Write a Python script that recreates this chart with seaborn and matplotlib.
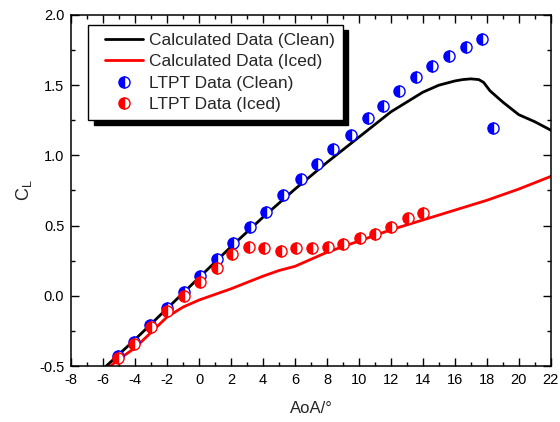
import matplotlib
matplotlib.use("Agg")
import matplotlib.pyplot as plt
import seaborn as sns
import pandas as pd
from matplotlib.ticker import MultipleLocator, FormatStrFormatter
from matplotlib.lines import Line2D
from matplotlib.legend_handler import HandlerLine2D

# Calculated data (lines)
calc_clean_aoa = [-6, -4, -2, 0, 2, 4, 6, 8, 10, 12, 14, 15, 16, 16.5, 17, 17.5, 17.8, 18.2, 19, 20, 21, 22]
calc_clean_cl = [-0.52, -0.31, -0.09, 0.13, 0.35, 0.56, 0.76, 0.95, 1.13, 1.31, 1.45, 1.50, 1.53, 1.54, 1.545, 1.54, 1.52, 1.46, 1.38, 1.29, 1.24, 1.18]

calc_iced_aoa = [-6, -5, -4, -3, -2, -1, 0, 2, 4, 5, 6, 8, 10, 12, 14, 16, 18, 20, 22]
calc_iced_cl = [-0.54, -0.45, -0.37, -0.26, -0.15, -0.08, -0.03, 0.05, 0.14, 0.18, 0.21, 0.31, 0.39, 0.47, 0.54, 0.61, 0.68, 0.76, 0.85]

# LTPT experimental data
ltpt_clean_aoa = [-5.1, -4.1, -3.1, -2.0, -0.95, 0.05, 1.1, 2.1, 3.2, 4.2, 5.25, 6.35, 7.35, 8.4, 9.5, 10.55, 11.5, 12.5, 13.6, 14.6, 15.65, 16.7, 17.7, 18.4]
ltpt_clean_cl = [-0.43, -0.33, -0.21, -0.085, 0.03, 0.143, 0.262, 0.374, 0.488, 0.597, 0.718, 0.83, 0.937, 1.043, 1.147, 1.268, 1.354, 1.459, 1.558, 1.639, 1.71, 1.774, 1.827, 1.195]

ltpt_iced_aoa = [-5.1, -4.06, -3.03, -2.03, -0.95, 0.05, 1.1, 2.08, 3.12, 4.08, 5.1, 6.04, 7.04, 8.04, 9.02, 10.07, 11.0, 12.0, 13.09, 14.03]
ltpt_iced_cl = [-0.44, -0.34, -0.22, -0.11, 0.0, 0.10, 0.20, 0.30, 0.345, 0.34, 0.321, 0.338, 0.34, 0.35, 0.369, 0.414, 0.44, 0.488, 0.556, 0.592]

labels = ["Calculated Data (Clean)", "Calculated Data (Iced)", "LTPT Data (Clean)", "LTPT Data (Iced)"]

sns.set_style("ticks")
plt.rcParams["font.family"] = ["Liberation Sans", "DejaVu Sans"]
plt.rcParams["axes.unicode_minus"] = False

fig = plt.figure(figsize=(5.6, 4.22), dpi=100)
ax = fig.add_axes([0.1273, 0.1327, 0.8561, 0.8318])

df_cc = pd.DataFrame({"AoA": calc_clean_aoa, "CL": calc_clean_cl})
df_ci = pd.DataFrame({"AoA": calc_iced_aoa, "CL": calc_iced_cl})
df_lc = pd.DataFrame({"AoA": ltpt_clean_aoa, "CL": ltpt_clean_cl})
df_li = pd.DataFrame({"AoA": ltpt_iced_aoa, "CL": ltpt_iced_cl})

sns.lineplot(data=df_cc, x="AoA", y="CL", ax=ax, color="black", linewidth=2.0, sort=False, label=labels[0])
sns.lineplot(data=df_ci, x="AoA", y="CL", ax=ax, color="#ff0000", linewidth=2.0, sort=False, label=labels[1])
sns.lineplot(data=df_lc, x="AoA", y="CL", ax=ax, color="#0000ff", linestyle="none", marker="o",
             markersize=8, fillstyle="left", markerfacecoloralt="white", markeredgecolor="#0000ff",
             markeredgewidth=1.0, sort=False, label=labels[2])
sns.lineplot(data=df_li, x="AoA", y="CL", ax=ax, color="#ff0000", linestyle="none", marker="o",
             markersize=8, fillstyle="left", markerfacecoloralt="white", markeredgecolor="#ff0000",
             markeredgewidth=1.0, sort=False, label=labels[3])

ax.set_xlim(-8, 22)
ax.set_ylim(-0.5, 2.0)
ax.xaxis.set_major_locator(MultipleLocator(2))
ax.xaxis.set_minor_locator(MultipleLocator(1))
ax.yaxis.set_major_locator(MultipleLocator(0.5))
ax.yaxis.set_minor_locator(MultipleLocator(0.25))
ax.yaxis.set_major_formatter(FormatStrFormatter("%.1f"))

ax.tick_params(which="both", direction="in", top=True, right=True, labelsize=10.5, colors="black", width=1.0)
ax.tick_params(which="major", length=5.5, pad=5)
ax.tick_params(which="minor", length=3)
for s in ax.spines.values():
    s.set_linewidth(1.1)
    s.set_color("black")

ax.set_xlabel("AoA/°", fontsize=12, labelpad=10)
ax.set_ylabel(r"$\mathregular{C_L}$", fontsize=13, labelpad=4)

handles, lbls = ax.get_legend_handles_labels()
leg = ax.legend(handles, lbls, loc="upper left", bbox_to_anchor=(0.035, 0.972), fontsize=12.5,
                frameon=True, fancybox=False, edgecolor="black", framealpha=1,
                shadow={"color": "black", "alpha": 1.0, "ox": 4, "oy": -4},
                handlelength=2.7, handletextpad=0.35, labelspacing=0.36, borderpad=0.45,
                borderaxespad=0, handler_map={Line2D: HandlerLine2D(xpad=0.5)})
leg.get_frame().set_linewidth(1.0)

fig.savefig("out.png", dpi=100)
